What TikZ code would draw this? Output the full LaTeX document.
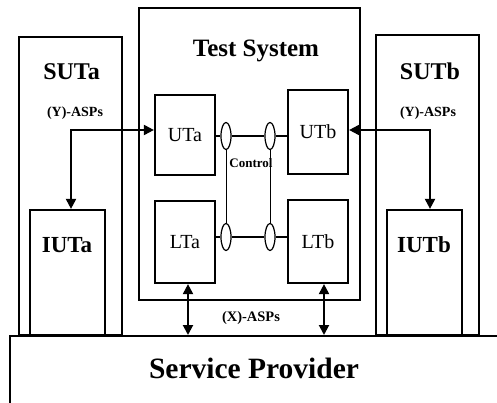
\documentclass[tikz,border=0pt]{standalone}
\usepackage{fontspec}
\setmainfont{Liberation Serif}
\usetikzlibrary{arrows.meta,shapes.geometric}
\begin{document}
\begin{tikzpicture}[x=1pt,y=-1pt,
  box/.style={draw,line width=2.2pt,inner sep=0pt},
  unit/.style={box,minimum width=60pt,font=\fontsize{20}{22}\selectfont},
  port/.style={draw,ellipse,line width=1.2pt,minimum width=10pt,minimum height=27pt,inner sep=0pt},
  dbl/.style={line width=2pt,{Triangle[length=10pt,width=10pt]}-{Triangle[length=10pt,width=10pt]}},
  title/.style={font=\bfseries\fontsize{24}{26}\selectfont},
  asp/.style={font=\bfseries\fontsize{14}{16}\selectfont}]
  \useasboundingbox (0,0) rectangle (497,403);
  \clip (0,0) rectangle (497,403);
  % outer systems
  \node[box,minimum width=103pt,minimum height=298pt] (suta) at (70.5,186) {};
  \node[box,minimum width=103pt,minimum height=300pt] (sutb) at (427.5,185) {};
  \node[box,minimum width=221pt,minimum height=292pt] (ts) at (249.5,154) {};
  \node[box,minimum width=75pt,minimum height=125pt] (iuta) at (67.5,272.5) {};
  \node[box,minimum width=75pt,minimum height=125pt] (iutb) at (424.5,272.5) {};
  \node[box,anchor=north west,minimum width=520pt,minimum height=120pt] (sp) at (9,335) {};
  \node[title,font=\bfseries\fontsize{25}{27}\selectfont] (tsname) at (256,51) {Test System};
  \node[title] (sutaname) at (71.5,72) {SUTa};
  \node[title] (sutbname) at (430,71) {SUTb};
  \node[title,font=\bfseries\fontsize{23}{25}\selectfont] (iutaname) at (67,245) {IUTa};
  \node[title,font=\bfseries\fontsize{23}{25}\selectfont] (iutbname) at (424,245) {IUTb};
  \node[font=\bfseries\fontsize{29.5}{31}\selectfont] (spname) at (254,368) {Service Provider};
  % testers
  \node[unit,minimum height=80pt] (uta) at (185,135) {UTa};
  \node[unit,minimum height=84pt] (utb) at (318,132) {UTb};
  \node[unit,minimum height=82pt] (lta) at (185,242) {LTa};
  \node[unit,minimum height=83pt] (ltb) at (318,241.5) {LTb};
  % control ports
  \node[port] (pua) at (226,136) {};
  \node[port] (pub) at (270,136) {};
  \node[port] (pla) at (226,237) {};
  \node[port] (plb) at (270,237) {};
  \draw[line width=1.2pt] (uta.east |- pua) -- (pua) (pua) -- (pub) (pub) -- (utb.west |- pub);
  \draw[line width=1.2pt] (lta.east |- pla) -- (pla) (pla) -- (plb) (plb) -- (ltb.west |- plb);
  \draw[line width=0.9pt] (pua.south) -- (pla.north) (pub.south) -- (plb.north);
  \node[font=\bfseries\fontsize{13}{15}\selectfont] (ctrl) at (251,163) {Control};
  % ASPs
  \coordinate (ya) at (71,130);
  \coordinate (yb) at (430,130);
  \draw[dbl] (ya -| uta.west) -- (ya) -- (ya |- iuta.north);
  \draw[dbl] (yb -| utb.east) -- (yb) -- (yb |- iutb.north);
  \node[asp] (yasa) at (75,113) {(Y)-ASPs};
  \node[asp] (yasb) at (428,113) {(Y)-ASPs};
  \coordinate (xa) at (188,0);
  \coordinate (xb) at (324,0);
  \draw[dbl] (xa |- lta.south) -- (xa |- sp.north);
  \draw[dbl] (xb |- ltb.south) -- (xb |- sp.north);
  \node[asp,font=\bfseries\fontsize{14.5}{16}\selectfont] (xas) at (251,318) {(X)-ASPs};
\end{tikzpicture}
\end{document}
